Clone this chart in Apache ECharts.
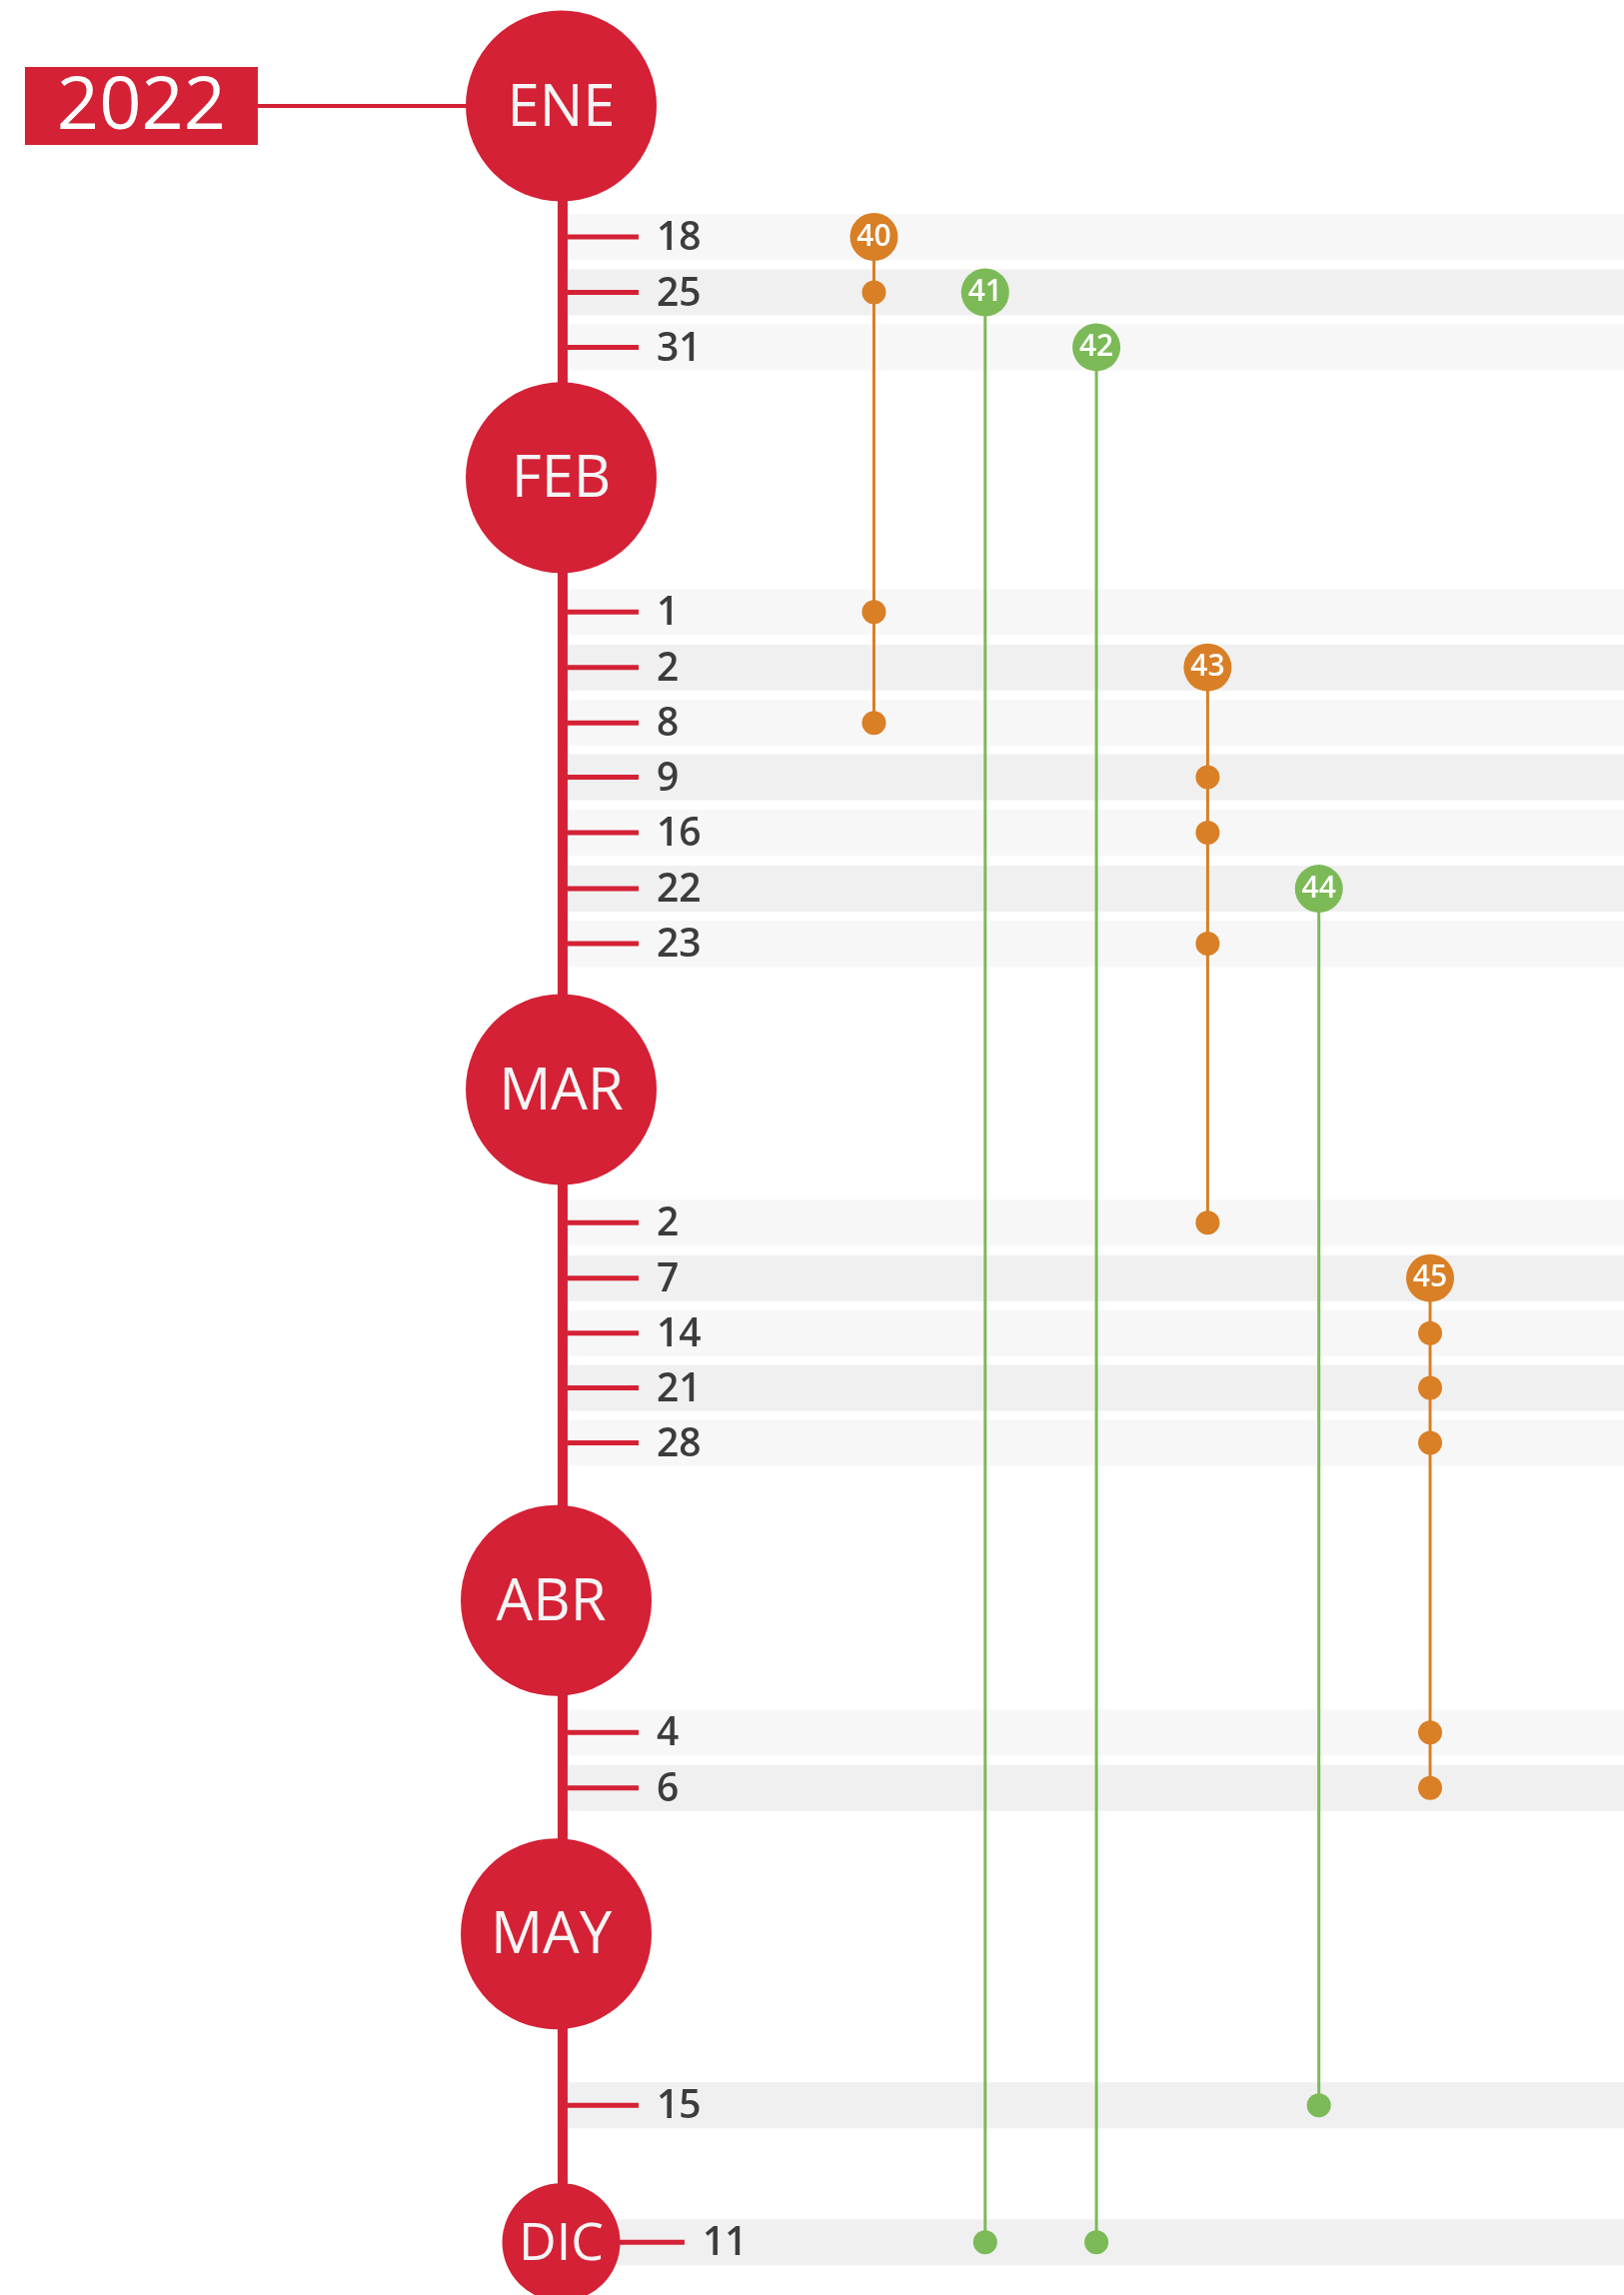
<!DOCTYPE html>
<html>
<head>
<meta charset="utf-8">
<script src="https://cdn.jsdelivr.net/npm/echarts@6/dist/echarts.min.js"></script>
<style>
html,body{margin:0;padding:0;background:#fff;}
#chart{width:1625px;height:2296px;}
</style>
</head>
<body>
<div id="chart"></div>
<script>
// ---------------- DATA ----------------
const yearLabel = '2022';
const months = ['ENE', 'FEB', 'MAR', 'ABR', 'MAY', 'DIC'];
const monthPos = [0, 6.7, 17.73, 26.94, 32.95, 38.51];

const dayMonth = ['ENE','ENE','ENE','FEB','FEB','FEB','FEB','FEB','FEB','FEB','MAR','MAR','MAR','MAR','MAR','ABR','ABR','MAY','DIC'];
const dayLabels = ['18','25','31','1','2','8','9','16','22','23','2','7','14','21','28','4','6','15','11'];
const dayPos = [2.36, 3.36, 4.35, 9.12, 10.12, 11.12, 12.1, 13.1, 14.11, 15.1, 20.13, 21.13, 22.12, 23.11, 24.1, 29.32, 30.32, 36.04, 38.51];
const bandTone = [0,1,0,0,1,0,1,0,1,0,0,1,0,1,0,0,1,1,1];

const eventIds = [40, 41, 42, 43, 44, 45];
const eventKind = ['o', 'g', 'g', 'o', 'g', 'o'];
const eventDates = [
  ['ENE 18', 'ENE 25', 'FEB 1', 'FEB 8'],
  ['ENE 25', 'DIC 11'],
  ['ENE 31', 'DIC 11'],
  ['FEB 2', 'FEB 9', 'FEB 16', 'FEB 23', 'MAR 2'],
  ['FEB 22', 'MAY 15'],
  ['MAR 7', 'MAR 14', 'MAR 21', 'MAR 28', 'ABR 4', 'ABR 6']
];

// ---------------- STYLE / LAYOUT ----------------
const RED = '#D42135';
const COLORS = { o: '#D97F26', g: '#7CBA57' };
const BAND = ['#F7F7F7', '#F0F0F0'];
const TEXT = '#3C3C3C';
const FONT = '"Open Sans", "Noto Sans", sans-serif';

const X_MIN = -7.857, X_MAX = 6.743;
const Y_MIN = -1.91, Y_MAX = 39.46;
const AXIS_X = -2.799;
const MONTH_X = -2.812;
const TICK_X0 = -2.754, TICK_X1 = -2.116, LABEL_X = -1.954;
const INLINE_TICK_X0 = -2.287, INLINE_TICK_X1 = -1.703, INLINE_LABEL_X = -1.541;
const BAND_X0 = -2.754, BAND_H = 0.829;
const YEAR_X = -6.586, YEAR_LINE_X0 = -5.539;
const monthStyle = {
  ABR: { offset: -5 }, MAY: { offset: -5 }, DIC: { size: 118, font: 52 }
};

// ---------------- BUILD ----------------
const posOf = {};
dayLabels.forEach((d, i) => { posOf[dayMonth[i] + ' ' + d] = dayPos[i]; });
const monthPosOf = {};
months.forEach((m, i) => { monthPosOf[m] = monthPos[i]; });

const rowData = dayLabels.map((d, i) => ({
  value: [0, dayPos[i], bandTone[i]],
  label: d,
  inline: Math.abs(monthPosOf[dayMonth[i]] - dayPos[i]) < 1e-6
}));

const series = [];

// bands
series.push({
  type: 'custom',
  z: 1,
  silent: true,
  data: rowData.map(r => r.value),
  renderItem: function (params, api) {
    const y = api.value(1);
    const p1 = api.coord([BAND_X0, y]);
    const p2 = api.coord([X_MAX, y]);
    const h = api.size([0, BAND_H])[1];
    return {
      type: 'rect',
      shape: { x: p1[0], y: p1[1] - h / 2, width: p2[0] - p1[0], height: h },
      style: { fill: BAND[api.value(2)] }
    };
  }
});

// year connector line
series.push({
  type: 'line', z: 2, silent: true, symbol: 'none',
  data: [[YEAR_LINE_X0, monthPos[0]], [MONTH_X, monthPos[0]]],
  lineStyle: { color: RED, width: 4 }
});

// main timeline axis
series.push({
  type: 'line', z: 2, silent: true, symbol: 'none',
  data: [[AXIS_X, monthPos[0]], [AXIS_X, monthPos[monthPos.length - 1]]],
  lineStyle: { color: RED, width: 10 }
});

// ticks + day labels
series.push({
  type: 'custom',
  z: 3,
  silent: true,
  data: rowData.map((r, i) => [i, r.value[1]]),
  renderItem: function (params, api) {
    const idx = api.value(0);
    const y = api.value(1);
    const r = rowData[idx];
    const x0 = r.inline ? INLINE_TICK_X0 : TICK_X0;
    const x1 = r.inline ? INLINE_TICK_X1 : TICK_X1;
    const xl = r.inline ? INLINE_LABEL_X : LABEL_X;
    const a = api.coord([x0, y]);
    const b = api.coord([x1, y]);
    const c = api.coord([xl, y]);
    return {
      type: 'group',
      children: [
        { type: 'line', shape: { x1: a[0], y1: a[1], x2: b[0], y2: b[1] },
          style: { stroke: RED, lineWidth: 5 } },
        { type: 'text',
          style: { text: r.label, x: c[0], y: c[1] + 2, align: 'left', verticalAlign: 'middle',
                   fontSize: 39, fontFamily: FONT, fontWeight: 600, fill: TEXT } }
      ]
    };
  }
});

// event lines
eventIds.forEach((id, k) => {
  const color = COLORS[eventKind[k]];
  const data = eventDates[k].map((key, j) => {
    const item = { value: [k, posOf[key]] };
    if (j === 0) {
      item.symbolSize = 48;
      item.label = {
        show: true, position: 'inside', formatter: String(id),
        color: '#fff', fontSize: 30, fontFamily: FONT, fontWeight: 600
      };
    }
    return item;
  });
  series.push({
    type: 'line', z: 4, silent: true,
    showSymbol: true, showAllSymbol: true,
    symbol: 'circle', symbolSize: 24,
    data: data,
    lineStyle: { color: color, width: 3 },
    itemStyle: { color: color, opacity: 1 },
    label: { show: false },
    animation: false
  });
});

// month circles
series.push({
  type: 'scatter', z: 5, silent: true,
  data: months.map((m, i) => {
    const st = monthStyle[m] || {};
    return {
      value: [MONTH_X, monthPos[i]],
      symbolSize: st.size || 191,
      symbolOffset: [st.offset || 0, 0],
      label: {
        show: true, position: 'inside', formatter: m, offset: [st.offset || 0, 3],
        color: '#F5F5F5', fontSize: st.font || 58, fontFamily: FONT, fontWeight: 500
      }
    };
  }),
  symbol: 'circle',
  itemStyle: { color: RED, opacity: 1 }
});

// year box
series.push({
  type: 'scatter', z: 5, silent: true,
  symbol: 'rect', symbolSize: [233, 78],
  data: [{ value: [YEAR_X, monthPos[0]] }],
  itemStyle: { color: RED, opacity: 1 },
  label: {
    show: true, position: 'inside', formatter: yearLabel, offset: [0, 2],
    color: '#FFFFFF', fontSize: 74, fontFamily: FONT, fontWeight: 500
  }
});

const chart = echarts.init(document.getElementById('chart'), null, { renderer: 'canvas' });
chart.setOption({
  animation: false,
  backgroundColor: '#FFFFFF',
  grid: { left: 0, right: 0, top: 0, bottom: 0, containLabel: false },
  xAxis: { type: 'value', min: X_MIN, max: X_MAX, show: false },
  yAxis: { type: 'value', min: Y_MIN, max: Y_MAX, inverse: true, show: false },
  series: series
});
</script>
</body>
</html>
